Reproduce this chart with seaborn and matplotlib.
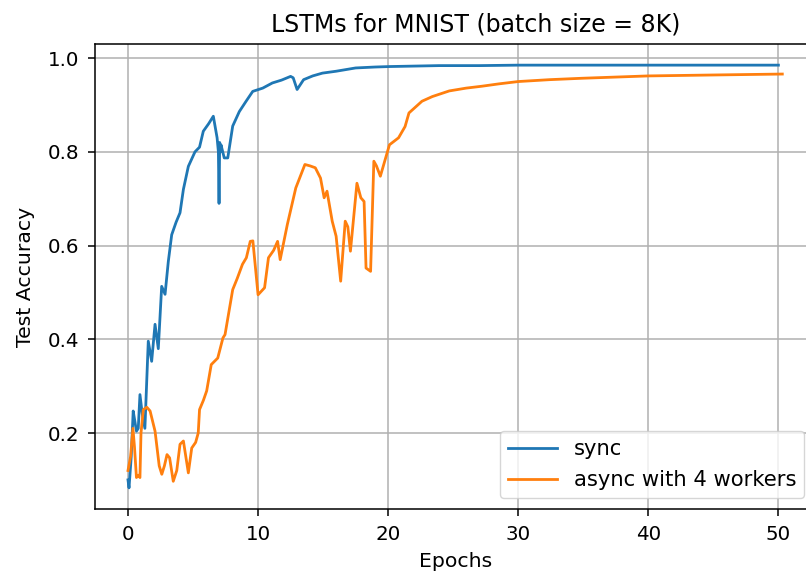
import matplotlib
matplotlib.use("Agg")
import matplotlib.pyplot as plt
import seaborn as sns
import pandas as pd

title = "LSTMs for MNIST (batch size = 8K)"
x_label = "Epochs"
y_label = "Test Accuracy"
series_names = ["sync", "async with 4 workers"]
series_colors = ["#1f77b4", "#ff7f0e"]

sync_epoch = [0, 0.08, 0.25, 0.4, 0.5, 0.65, 0.79, 0.92, 1.1, 1.3, 1.56, 1.82, 2.08, 2.33,
              2.59, 2.85, 3.1, 3.36, 3.7, 4.0, 4.26, 4.64, 5.15, 5.5, 5.79, 6.2, 6.56, 6.85,
              6.95, 7.0, 7.05, 7.1, 7.15, 7.4, 7.67, 8.05, 8.56, 9.08, 9.59, 10.36, 11.1,
              11.8, 12.5, 12.7, 13.0, 13.5, 14.2, 14.95, 16, 17.5, 19, 20.1, 22, 23.9, 27,
              30, 35, 40, 45, 50]
sync_acc = [0.10, 0.083, 0.15, 0.247, 0.23, 0.204, 0.21, 0.282, 0.24, 0.21, 0.396, 0.353,
            0.432, 0.38, 0.513, 0.496, 0.566, 0.623, 0.65, 0.67, 0.72, 0.769, 0.80, 0.81,
            0.844, 0.86, 0.876, 0.83, 0.80, 0.69, 0.82, 0.80, 0.815, 0.787, 0.787, 0.855,
            0.886, 0.908, 0.929, 0.936, 0.947, 0.953, 0.961, 0.958, 0.933, 0.954, 0.962,
            0.968, 0.972, 0.979, 0.981, 0.982, 0.983, 0.984, 0.984, 0.985, 0.985, 0.985,
            0.985, 0.985]

async_epoch = [0, 0.2, 0.38, 0.5, 0.65, 0.8, 0.92, 1.0, 1.18, 1.45, 1.7, 2.08, 2.4, 2.6,
               2.8, 3.0, 3.2, 3.48, 3.75, 4.0, 4.26, 4.64, 4.9, 5.2, 5.4, 5.5, 5.8, 6.05,
               6.4, 6.9, 7.3, 7.46, 8.05, 8.4, 8.8, 9.1, 9.4, 9.6, 10.0, 10.5, 10.8, 11.2,
               11.5, 11.7, 12.25, 12.9, 13.6, 14.0, 14.4, 14.8, 15.08, 15.3, 15.7, 16.0,
               16.35, 16.7, 16.9, 17.1, 17.6, 17.9, 18.15, 18.3, 18.65, 18.9, 19.1, 19.4,
               20.1, 20.8, 21.3, 21.6, 22.6, 23.4, 24.7, 26, 27.2, 28.5, 30, 32.4, 34.9,
               40, 45, 50.3]
async_acc = [0.12, 0.15, 0.21, 0.17, 0.105, 0.11, 0.105, 0.2, 0.25, 0.255, 0.247, 0.204,
             0.13, 0.112, 0.13, 0.154, 0.147, 0.097, 0.12, 0.176, 0.183, 0.115, 0.168,
             0.18, 0.2, 0.25, 0.27, 0.29, 0.346, 0.36, 0.403, 0.41, 0.506, 0.53, 0.56,
             0.574, 0.609, 0.61, 0.495, 0.51, 0.574, 0.59, 0.609, 0.57, 0.645, 0.723,
             0.773, 0.77, 0.766, 0.744, 0.702, 0.716, 0.652, 0.62, 0.524, 0.652, 0.64,
             0.588, 0.733, 0.702, 0.694, 0.552, 0.545, 0.78, 0.77, 0.748, 0.815, 0.83,
             0.854, 0.883, 0.908, 0.918, 0.93, 0.936, 0.94, 0.945, 0.95, 0.954, 0.957,
             0.962, 0.964, 0.966]

sync_df = pd.DataFrame({"epoch": sync_epoch, "acc": sync_acc})
async_df = pd.DataFrame({"epoch": async_epoch, "acc": async_acc})

plt.rcParams["font.family"] = ["DejaVu Sans"]
fig = plt.figure(figsize=(8.06, 5.73), dpi=100)
ax = fig.add_axes([0.1182, 0.1117, 0.893, 0.8115])

sns.lineplot(data=sync_df, x="epoch", y="acc", ax=ax, color=series_colors[0],
             linewidth=2.0, label=series_names[0], estimator=None, sort=False)
sns.lineplot(data=async_df, x="epoch", y="acc", ax=ax, color=series_colors[1],
             linewidth=2.0, label=series_names[1], estimator=None, sort=False)

ax.grid(True, color="#b0b0b0", linewidth=1.1)
ax.set_axisbelow(True)
ax.set_title(title, fontsize=17, pad=9, x=0.528)
ax.set_xlabel(x_label, fontsize=14.7, labelpad=6)
ax.set_ylabel(y_label, fontsize=14.7, labelpad=9)
ax.tick_params(labelsize=14.3, length=5, width=1.1, pad=6.5)
for s in ax.spines.values():
    s.set_linewidth(1.1)
ax.legend(loc="lower right", fontsize=15.2, handlelength=2.3)

fig.savefig("out.png", dpi=100)
